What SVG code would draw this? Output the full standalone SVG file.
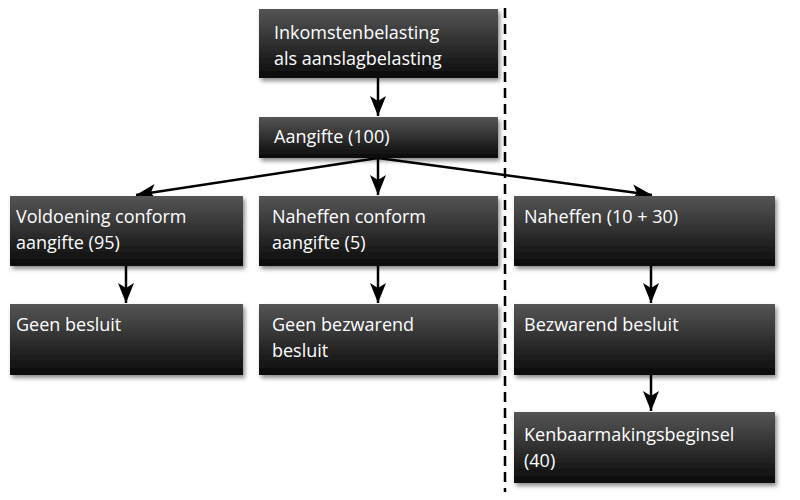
<svg xmlns="http://www.w3.org/2000/svg" width="800" height="500" viewBox="0 0 800 500">
<defs>
<linearGradient id="g" x1="0" y1="0" x2="0" y2="1"><stop offset="0" stop-color="#555"/><stop offset="1" stop-color="#0a0a0a"/></linearGradient>
<filter id="s" x="-5%" y="-10%" width="115%" height="130%"><feDropShadow dx="2" dy="3" stdDeviation="2" flood-color="#000" flood-opacity="0.45"/></filter>
<marker id="a" viewBox="0 0 10 10" refX="10" refY="5" markerWidth="7" markerHeight="7" orient="auto" markerUnits="userSpaceOnUse"><path d="M0,0 L10,5 L0,10 L3,5 z" fill="#000"/></marker>
<marker id="m" viewBox="0 0 20 16" refX="20" refY="8" markerWidth="20" markerHeight="16" orient="auto" markerUnits="userSpaceOnUse"><path d="M0,0 L20,8 L0,16 L5,8 z" fill="#000"/></marker>
</defs>
<style>
rect{fill:url(#g);filter:url(#s)}
text{font-family:"Open Sans","Noto Sans",sans-serif;font-size:18px;fill:#fff}
.c line{stroke:#000;stroke-width:2.5;marker-end:url(#m)}
</style>
<rect width="800" height="500" fill="#fff" style="fill:#fff;filter:none"/>
<line x1="505" y1="8" x2="505" y2="492" stroke="#000" stroke-width="2.5" stroke-dasharray="10,6"/>
<g class="c">
<line x1="378" y1="78" x2="378" y2="116"/>
<line x1="378" y1="158" x2="136" y2="195"/>
<line x1="378" y1="158" x2="378" y2="195"/>
<line x1="378" y1="158" x2="652" y2="195"/>
<line x1="126" y1="266" x2="126" y2="303"/>
<line x1="378" y1="266" x2="378" y2="303"/>
<line x1="651" y1="266" x2="651" y2="303"/>
<line x1="651" y1="375" x2="651" y2="411"/>
</g>
<g id="n1"><rect x="259" y="9" width="239" height="69"/><text x="274" y="39">Inkomstenbelasting</text><text x="274" y="65">als aanslagbelasting</text></g>
<g id="n2"><rect x="259" y="117" width="239" height="41"/><text x="274" y="143">Aangifte (100)</text></g>
<g id="n3"><rect x="10" y="196" width="233" height="70"/><text x="16" y="223">Voldoening conform</text><text x="16" y="249">aangifte (95)</text></g>
<g id="n4"><rect x="259" y="196" width="239" height="70"/><text x="272" y="223">Naheffen conform</text><text x="272" y="249">aangifte (5)</text></g>
<g id="n5"><rect x="514" y="196" width="261" height="70"/><text x="524" y="223">Naheffen (10 + 30)</text></g>
<g id="n6"><rect x="10" y="304" width="233" height="71"/><text x="16" y="331">Geen besluit</text></g>
<g id="n7"><rect x="259" y="304" width="239" height="71"/><text x="272" y="331">Geen bezwarend</text><text x="272" y="357">besluit</text></g>
<g id="n8"><rect x="514" y="304" width="261" height="71"/><text x="524" y="331">Bezwarend besluit</text></g>
<g id="n9"><rect x="514" y="412" width="261" height="71"/><text x="524" y="441">Kenbaarmakingsbeginsel</text><text x="524" y="467">(40)</text></g>
</svg>
